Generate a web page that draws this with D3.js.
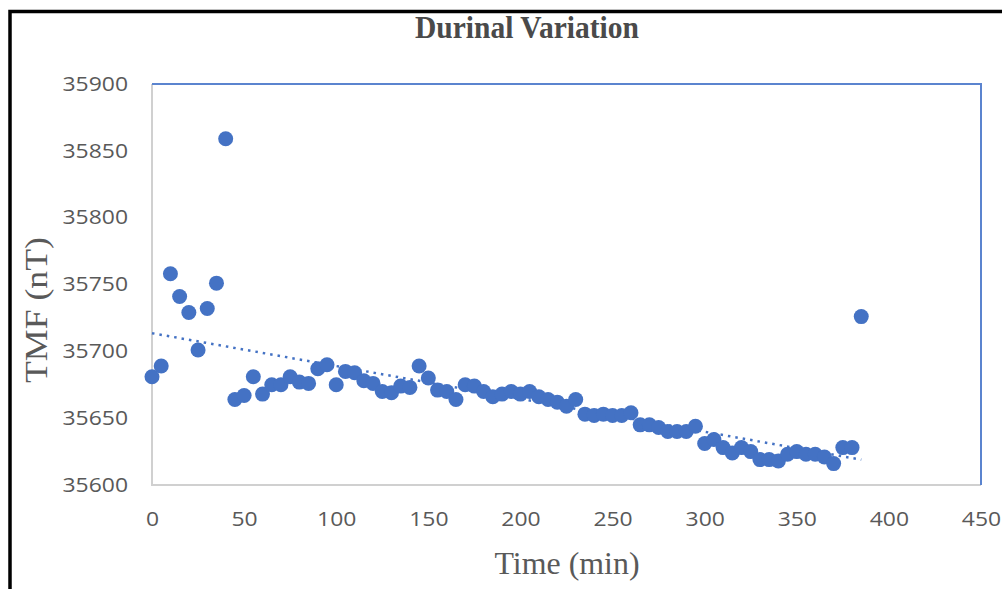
<!DOCTYPE html>
<html>
<head>
<meta charset="utf-8">
<script src="https://cdn.jsdelivr.net/npm/d3@7"></script>
<style>
  body { margin: 0; background: #fff; }
  svg { display: block; }
</style>
</head>
<body>
<div id="chart"></div>
<script>
// time in minutes, every 5 min
var times = [0,5,10,15,20,25,30,35,40,45,50,55,60,65,70,75,80,85,90,95,
  100,105,110,115,120,125,130,135,140,145,150,155,160,165,170,175,180,185,190,195,
  200,205,210,215,220,225,230,235,240,245,250,255,260,265,270,275,280,285,290,295,
  300,305,310,315,320,325,330,335,340,345,350,355,360,365,370,375,380,385];
// total magnetic field (nT)
var tmf = [35681,35689,35758,35741,35729,35701,35732,35751,35859,35664,35667,35681,35668,35675,35675,35681,35677,35676,35687,35690,
  35675,35685,35684,35678,35676,35670,35669,35674,35673,35689,35680,35671,35670,35664,35675,35674,35670,35666,35668,35670,
  35668,35670,35666,35664,35662,35659,35664,35653,35652,35653,35652,35652,35654,35645,35645,35643,35640,35640,35640,35644,
  35631,35634,35628,35624,35628,35625,35619,35619,35618,35623,35625,35623,35623,35621,35616,35628,35628,35726];
var xTicks = [0,50,100,150,200,250,300,350,400,450];
var yTicks = [35600,35650,35700,35750,35800,35850,35900];

var W = 1002, H = 589;
var margin = {top: 84, right: 21, bottom: 104, left: 152},
    width = W - margin.left - margin.right,
    height = H - margin.top - margin.bottom;

var svg = d3.select("#chart").append("svg")
    .attr("width", W)
    .attr("height", H);

// black frame (top + left)
svg.append("path")
    .attr("d", "M10,589 V11.5 H1002")
    .attr("fill", "none")
    .attr("stroke", "#000")
    .attr("stroke-width", 3.5);

var g = svg.append("g")
    .attr("transform", "translate(" + margin.left + "," + margin.top + ")");

var x = d3.scaleLinear().domain([0, 450]).range([0, width]);
var y = d3.scaleLinear().domain([35600, 35900]).range([height, 0]);

// plot border: gray left/bottom, blue top/right
g.append("path")
    .attr("d", "M0,0 V" + height + " H" + width)
    .attr("fill", "none")
    .attr("stroke", "#d0d0d0")
    .attr("stroke-width", 2);
g.append("path")
    .attr("d", "M0,0 H" + width + " V" + height)
    .attr("fill", "none")
    .attr("stroke", "#5b84cf")
    .attr("stroke-width", 2);

// axes (labels only)
var xAxis = g.append("g")
    .attr("transform", "translate(0," + height + ")")
    .call(d3.axisBottom(x).tickValues(xTicks).tickSize(0).tickPadding(27));
var yAxis = g.append("g")
    .call(d3.axisLeft(y).tickValues(yTicks).tickSize(0).tickPadding(24).tickFormat(d3.format("d")));
[xAxis, yAxis].forEach(function(a) {
  a.select(".domain").remove();
  a.selectAll("text")
    .style("font-family", "'Open Sans', 'Liberation Sans', sans-serif")
    .style("font-size", "19.5px")
    .attr("fill", "#595959")
    .attr("textLength", function() { return this.textContent.length * 13.1; })
    .attr("lengthAdjust", "spacingAndGlyphs");
});

// linear trendline from the data
var n = times.length,
    mx = d3.mean(times), my = d3.mean(tmf);
var slope = d3.sum(times, function(t, i) { return (t - mx) * (tmf[i] - my); }) /
            d3.sum(times, function(t) { return (t - mx) * (t - mx); });
var icpt = my - slope * mx;
var tEnd = times[n - 1];
g.append("line")
    .attr("x1", x(0)).attr("y1", y(icpt))
    .attr("x2", x(tEnd)).attr("y2", y(icpt + slope * tEnd))
    .attr("stroke", "#4472C4")
    .attr("stroke-width", 2.5)
    .attr("stroke-dasharray", "2.5,5");

// points
g.selectAll(".dot")
    .data(times)
    .enter()
    .append("circle")
      .attr("class", "dot")
      .attr("cx", function(d) { return x(d); })
      .attr("cy", function(d, i) { return y(tmf[i]); })
      .attr("r", 7.5)
      .attr("fill", "#4472C4");

// title and axis titles
svg.append("text")
    .attr("x", 527).attr("y", 38)
    .attr("text-anchor", "middle")
    .attr("textLength", 224)
    .attr("lengthAdjust", "spacingAndGlyphs")
    .style("font-family", "'Liberation Serif', serif")
    .style("font-size", "31px")
    .style("font-weight", "bold")
    .attr("fill", "#4a4a4a")
    .text("Durinal Variation");

svg.append("text")
    .attr("x", 567).attr("y", 574)
    .attr("text-anchor", "middle")
    .attr("textLength", 145)
    .attr("lengthAdjust", "spacingAndGlyphs")
    .style("font-family", "'Liberation Serif', serif")
    .style("font-size", "31px")
    .attr("fill", "#595959")
    .text("Time (min)");

svg.append("text")
    .attr("transform", "translate(47,310) rotate(-90)")
    .attr("text-anchor", "middle")
    .attr("textLength", 146)
    .attr("lengthAdjust", "spacingAndGlyphs")
    .style("font-family", "'Liberation Serif', serif")
    .style("font-size", "31px")
    .attr("fill", "#595959")
    .text("TMF (nT)");
</script>
</body>
</html>
